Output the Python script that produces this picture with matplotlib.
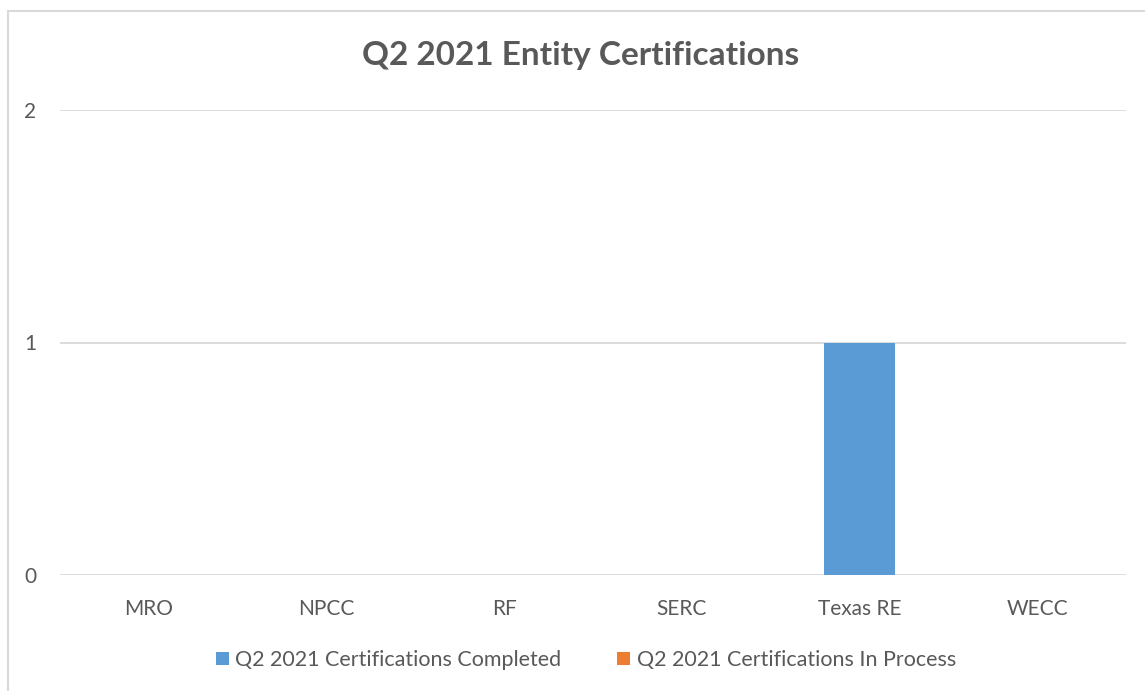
import matplotlib
matplotlib.use("Agg")
import matplotlib.pyplot as plt
from matplotlib.patches import Rectangle, Patch
import numpy as np

categories = ["MRO", "NPCC", "RF", "SERC", "Texas RE", "WECC"]
completed = [0, 0, 0, 0, 1, 0]
in_process = [0, 0, 0, 0, 0, 0]
series_names = ["Q2 2021 Certifications Completed", "Q2 2021 Certifications In Process"]
yticks = [0, 1, 2]
title = "Q2 2021 Entity Certifications"

plt.rcParams['font.family'] = ['Lato', 'DejaVu Sans']
TXT = '#595959'
GRID = '#d9d9d9'
BLUE = '#5b9bd5'
ORANGE = '#ed7d31'

W, H = 1145, 691
fig = plt.figure(figsize=(W/100, H/100), dpi=100)

# outer chart border
fig.patches.append(Rectangle((8/W, -0.1), 1.2, 1 - 11/H + 0.1, transform=fig.transFigure,
                             fill=False, edgecolor=GRID, linewidth=1.5))

ax = fig.add_axes([60/W, 1 - 575/H, (1126-60)/W, (575-110)/H])
x = np.arange(len(categories))
ax.bar(x, completed, width=0.4, color=BLUE, label=series_names[0], zorder=3)
ax.bar(x, in_process, bottom=completed, width=0.4, color=ORANGE, label=series_names[1], zorder=3)

ax.set_xlim(-0.5, len(categories) - 0.5)
ax.set_ylim(0, 2)
ax.set_yticks(yticks)
ax.set_yticklabels([str(v) for v in yticks])
ax.set_xticks(x)
ax.set_xticklabels(categories)
ax.grid(axis='y', color=GRID, linewidth=1.3, zorder=0)
for s in ax.spines.values():
    s.set_visible(False)
ax.tick_params(axis='both', length=0, colors=TXT, labelsize=15)
ax.tick_params(axis='x', pad=17)
ax.tick_params(axis='y', pad=17)

fig.text(581/W, 1 - 56/H, title, ha='center', va='center', fontsize=24,
         fontweight='bold', color=TXT)

handles = [Patch(facecolor=BLUE), Patch(facecolor=ORANGE)]
fig.legend(handles, series_names, loc='center', bbox_to_anchor=(586/W, 1 - 660/H),
           ncol=2, frameon=False, fontsize=15.5, labelcolor=TXT,
           handlelength=0.6, handleheight=0.6, handletextpad=0.3, columnspacing=2.6)

fig.savefig("out.png", dpi=100)
